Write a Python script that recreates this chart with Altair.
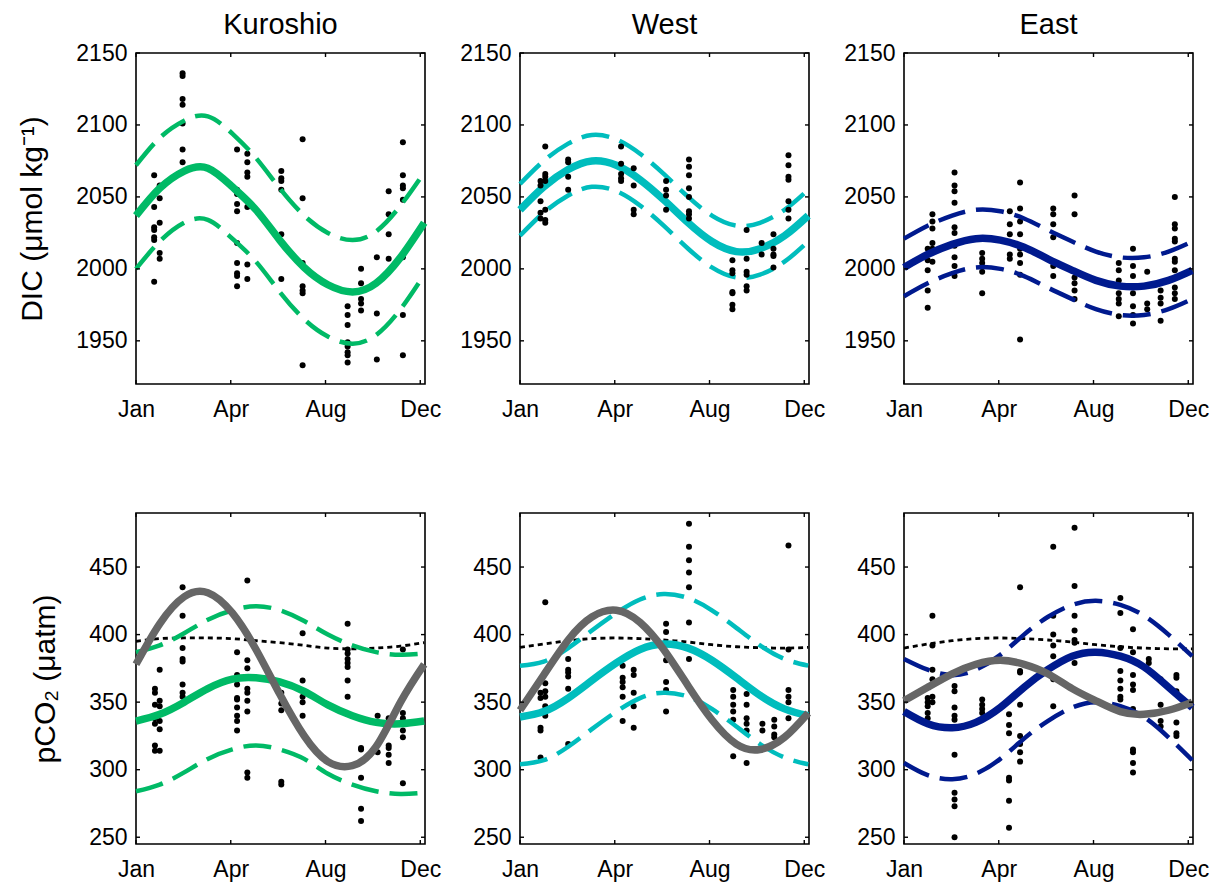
import altair as alt
import pandas as pd

FONT = "Liberation Sans"

DAYS = [0, 30, 61, 91, 122, 152, 182, 213, 243, 274, 304, 335, 365]
MONTH_TICKS = [0, 120, 240, 360]
MONTH_LABELS = ["Jan", "Apr", "Aug", "Dec"]
DIC_TICKS = [1950, 2000, 2050, 2100, 2150]
PCO2_TICKS = [250, 300, 350, 400, 450]
DIC_DOMAIN = [1920, 2150]
PCO2_DOMAIN = [245, 490]

REGIONS = ["Kuroshio", "West", "East"]
COLORS = ["#00BA66", "#00BDBD", "#001A8E"]
GRAY = "#666666"

# ---- DIC fits (solid) and bounds (dashed)
KUR_DIC_FIT = [2037, 2056, 2068, 2070, 2057, 2041, 2020, 2001, 1989, 1984, 1990, 2008, 2032]
KUR_DIC_UP = [2072, 2091, 2103, 2106, 2094, 2077, 2056, 2037, 2025, 2020, 2026, 2044, 2067]
KUR_DIC_LO = [2000, 2019, 2032, 2034, 2021, 2005, 1984, 1965, 1953, 1948, 1954, 1972, 1996]

WEST_DIC_FIT = [2041, 2057, 2069, 2075, 2072, 2062, 2048, 2032, 2019, 2012, 2014, 2023, 2037]
WEST_DIC_UP = [2059, 2075, 2087, 2093, 2090, 2080, 2066, 2050, 2037, 2030, 2032, 2041, 2055]
WEST_DIC_LO = [2023, 2039, 2051, 2057, 2054, 2044, 2030, 2014, 2001, 1994, 1996, 2005, 2019]

EAST_DIC_FIT = [2001, 2010, 2017, 2021, 2020, 2015, 2007, 1999, 1992, 1988, 1988, 1992, 1999]
EAST_DIC_UP = [2021, 2030, 2037, 2041, 2040, 2035, 2027, 2019, 2012, 2008, 2008, 2012, 2019]
EAST_DIC_LO = [1981, 1990, 1997, 2001, 2000, 1995, 1987, 1979, 1972, 1968, 1968, 1972, 1979]

# ---- pCO2 fits, bounds, grey curve and dotted atmospheric line
KUR_PCO2_FIT = [336, 341, 350, 360, 367, 368, 365, 358, 348, 340, 335, 334, 336]
KUR_PCO2_UP = [387, 392, 401, 411, 418, 421, 418, 410, 400, 392, 387, 385, 386]
KUR_PCO2_LO = [284, 289, 298, 308, 315, 318, 315, 308, 297, 289, 284, 282, 283]
KUR_PCO2_GRAY = [378, 408, 428, 431, 416, 389, 356, 325, 306, 303, 317, 350, 378]
KUR_PCO2_ATM = [395, 397, 397.5, 397.5, 397, 395.5, 394, 392, 390, 389.5, 390, 391.5, 394]

WEST_PCO2_FIT = [339, 343, 353, 366, 379, 389, 393, 390, 381, 368, 355, 345, 340]
WEST_PCO2_UP = [377, 380, 390, 403, 416, 426, 430, 427, 418, 405, 392, 382, 377]
WEST_PCO2_LO = [304, 307, 317, 330, 343, 353, 357, 354, 345, 332, 319, 309, 304]
WEST_PCO2_GRAY = [344, 370, 396, 413, 418, 409, 389, 362, 337, 319, 315, 324, 342]
WEST_PCO2_ATM = [390.5, 393, 395.5, 397, 397.5, 397, 396, 394.5, 392.5, 391, 390.3, 390, 390.5]

EAST_PCO2_FIT = [343, 334, 331, 335, 346, 361, 374, 384, 387, 384, 376, 361, 346]
EAST_PCO2_UP = [382, 374, 370, 374, 385, 400, 413, 422, 425, 422, 414, 400, 384]
EAST_PCO2_LO = [305, 296, 293, 297, 308, 323, 336, 346, 350, 347, 339, 324, 307]
EAST_PCO2_GRAY = [351, 361, 371, 378, 381, 378, 371, 360, 351, 343, 341, 344, 350]
EAST_PCO2_ATM = [390, 393, 395.5, 397, 397.5, 397, 396, 394.5, 392.5, 391, 390, 389.5, 389.5]

# ---- observations: (day of year, [values])
KUR_DIC_PTS = [
    (23, [2065, 2052, 2043, 2029, 2027, 2022, 2020, 1991]),
    (30, [2058, 2049, 2032, 2011, 2007]),
    (59, [2136, 2134, 2118, 2114, 2101, 2083, 2074]),
    (128, [2083, 2055, 2052, 2045, 2040, 2018, 2004, 1997, 1995, 1988]),
    (141, [2080, 2074, 2067, 2064, 2043, 2003, 1993]),
    (184, [2068, 2063, 2061, 2055, 2024, 1993]),
    (211, [2090, 2049, 2004, 1988, 1985, 1983, 1933]),
    (268, [1974, 1968, 1961, 1949, 1946, 1942, 1940, 1935]),
    (285, [2000, 1990, 1979, 1976, 1971]),
    (305, [2008, 1969, 1937]),
    (320, [2054, 2038, 2024, 2007]),
    (338, [2088, 2065, 2058, 2056, 2048, 2008, 1968, 1940]),
]
WEST_DIC_PTS = [
    (26, [2061, 2058, 2047, 2039, 2035]),
    (32, [2085, 2066, 2064, 2061, 2041, 2034, 2032]),
    (61, [2076, 2074, 2064, 2055]),
    (128, [2085, 2073, 2066, 2063, 2061]),
    (144, [2070, 2058, 2041, 2038]),
    (185, [2061, 2055, 2051, 2041]),
    (214, [2076, 2071, 2065, 2056, 2050, 2040, 2038, 2035]),
    (269, [2006, 1999, 1997, 1984, 1983, 1975, 1972]),
    (287, [2027, 2007, 1998, 1996, 1988, 1985]),
    (306, [2018, 2010]),
    (321, [2024, 2014, 2010, 2009, 2001]),
    (340, [2079, 2072, 2064, 2062, 2047, 2041, 2035]),
]
EAST_DIC_PTS = [
    (30, [2014, 2006, 1999, 1985, 1973]),
    (36, [2038, 2033, 2028, 2018, 2014, 2005]),
    (64, [2067, 2058, 2054, 2046, 2029, 2025, 2016, 2008, 2002, 1995]),
    (99, [2011, 2007, 2004, 1998, 1983]),
    (134, [2040, 2031, 2024, 2010, 2007]),
    (147, [2060, 2042, 2033, 2024, 2014, 2010, 2004, 1996, 1951]),
    (189, [2042, 2038, 2031, 2022, 2002, 1995]),
    (216, [2051, 2038, 1994, 1990, 1985, 1979]),
    (272, [2004, 1999, 1992, 1983, 1979, 1976, 1967]),
    (290, [2014, 2002, 1995, 1983, 1974, 1968, 1962]),
    (308, [1998, 1976, 1972]),
    (325, [1985, 1980, 1976, 1964]),
    (343, [2050, 2031, 2028, 2021, 2019, 2007, 2005, 1999, 1987, 1983, 1979]),
]
KUR_PCO2_PTS = [
    (24, [360, 357, 348, 338, 334, 318, 314]),
    (30, [374, 351, 347, 336, 330, 314]),
    (59, [435, 414, 390, 382, 380, 363, 357, 354]),
    (128, [387, 370, 363, 353, 352, 346, 340, 336, 329]),
    (141, [440, 381, 375, 360, 357, 351, 343, 298, 294]),
    (184, [357, 349, 344, 291, 289]),
    (211, [401, 366, 354, 350, 340]),
    (268, [408, 389, 386, 382, 379, 376, 366, 354]),
    (285, [316, 315, 294, 271, 262]),
    (306, [340, 313]),
    (320, [338, 318, 316, 311, 305]),
    (338, [389, 342, 338, 329, 324, 290]),
]
WEST_PCO2_PTS = [
    (26, [357, 353, 331, 329, 309]),
    (32, [424, 364, 358, 354, 347, 340]),
    (61, [382, 374, 372, 369, 360, 319]),
    (130, [377, 368, 365, 361, 354, 336]),
    (144, [374, 370, 357, 347, 331]),
    (185, [408, 402, 381, 365, 359, 343]),
    (214, [482, 465, 455, 446, 435, 409, 382]),
    (270, [359, 354, 348, 343, 337, 310]),
    (287, [356, 348, 338, 334, 329, 305]),
    (307, [334, 329]),
    (322, [337, 332, 326, 324]),
    (340, [466, 389, 359, 354, 350, 338]),
]
EAST_PCO2_PTS = [
    (30, [353, 350, 347, 342, 338]),
    (36, [414, 392, 374, 367, 354, 350]),
    (64, [362, 358, 346, 340, 337, 311, 283, 278, 273, 250]),
    (99, [352, 348, 345, 342]),
    (133, [341, 333, 327, 294, 292, 277, 257]),
    (147, [435, 373, 372, 348, 325, 319, 313, 306]),
    (189, [465, 414, 400, 392, 384, 367, 347]),
    (216, [479, 436, 414, 403, 396, 394, 379]),
    (274, [427, 416, 390, 373, 366, 360, 354, 352]),
    (290, [404, 387, 370, 363, 359, 345, 315, 313, 305, 298]),
    (310, [382, 379]),
    (325, [367, 348, 336, 332]),
    (345, [370, 368, 358, 335, 327, 325]),
]

W, H = 289, 331
TICK_LEN = 4

label_expr = " : ".join(
    f"datum.value == {v} ? '{l}'" for v, l in zip(MONTH_TICKS[:-1], MONTH_LABELS[:-1])
) + f" : '{MONTH_LABELS[-1]}'"


def curve_df(values):
    return pd.DataFrame({"day": DAYS, "value": values})


def pts_df(groups):
    rows = [(d, v) for d, vals in groups for v in vals]
    return pd.DataFrame(rows, columns=["day", "value"])


def panel(fit, up, lo, pts, color, ydomain, yticks, title=None, ytitle=None,
          gray=None, atm=None, dots_on_top=False):
    x = alt.X("day:Q",
              scale=alt.Scale(domain=[0, 366], nice=False, zero=False),
              axis=alt.Axis(values=MONTH_TICKS, labelExpr=label_expr, title=None,
                            grid=False, ticks=False, tickSize=0, domain=False,
                            labelPadding=14, labelFlush=False, labelOverlap=False))
    yaxis_kwargs = dict(values=yticks, grid=False, ticks=False, tickSize=0, domain=False,
                        labelPadding=9, labelOverlap=False, format="d")
    if ytitle:
        yaxis_kwargs.update(title=ytitle, titlePadding=28)
    else:
        yaxis_kwargs.update(title=None)
    y = alt.Y("value:Q", scale=alt.Scale(domain=ydomain, nice=False, zero=False),
              axis=alt.Axis(**yaxis_kwargs))

    layers = []
    dots = alt.Chart(pts_df(pts)).mark_circle(size=36, color="black", opacity=1).encode(x=x, y=y)
    if not dots_on_top:
        layers.append(dots)
    if atm is not None:
        layers.append(alt.Chart(curve_df(atm)).mark_line(
            color="black", strokeWidth=2.8, strokeDash=[5, 4], interpolate="natural").encode(x=x, y=y))
    for vals in (up, lo):
        layers.append(alt.Chart(curve_df(vals)).mark_line(
            color=color, strokeWidth=4.5, strokeDash=[28, 11], interpolate="natural").encode(x=x, y=y))
    layers.append(alt.Chart(curve_df(fit)).mark_line(
        color=color, strokeWidth=7.5, interpolate="natural").encode(x=x, y=y))
    if gray is not None:
        layers.append(alt.Chart(curve_df(gray)).mark_line(
            color=GRAY, strokeWidth=7.5, interpolate="natural").encode(x=x, y=y))
    if dots_on_top:
        layers.append(dots)

    # inward tick marks on all four sides
    ydf = pd.DataFrame({"value": yticks})
    xdf = pd.DataFrame({"day": MONTH_TICKS})
    rule = dict(color="black", strokeWidth=1.4)
    layers.append(alt.Chart(ydf).mark_rule(**rule).encode(
        y=y, x=alt.value(0), x2=alt.value(TICK_LEN)))
    layers.append(alt.Chart(ydf).mark_rule(**rule).encode(
        y=y, x=alt.value(W - TICK_LEN), x2=alt.value(W)))
    layers.append(alt.Chart(xdf).mark_rule(**rule).encode(
        x=x, y=alt.value(H), y2=alt.value(H - TICK_LEN)))
    layers.append(alt.Chart(xdf).mark_rule(**rule).encode(
        x=x, y=alt.value(0), y2=alt.value(TICK_LEN)))

    ch = alt.layer(*layers).properties(width=W, height=H)
    if title:
        ch = ch.properties(title=alt.TitleParams(
            text=title, fontSize=29, font=FONT, fontWeight="normal", color="black",
            anchor="middle", baseline="alphabetic", offset=0, dy=21))
    return ch


DIC_TITLE = "DIC (\u03bcmol kg\u207b\u00b9)"
PCO2_TITLE = "pCO\u2082 (\u03bcatm)"

panels = [
    panel(KUR_DIC_FIT, KUR_DIC_UP, KUR_DIC_LO, KUR_DIC_PTS, COLORS[0], DIC_DOMAIN, DIC_TICKS,
          title=REGIONS[0], ytitle=DIC_TITLE),
    panel(WEST_DIC_FIT, WEST_DIC_UP, WEST_DIC_LO, WEST_DIC_PTS, COLORS[1], DIC_DOMAIN, DIC_TICKS,
          title=REGIONS[1], dots_on_top=True),
    panel(EAST_DIC_FIT, EAST_DIC_UP, EAST_DIC_LO, EAST_DIC_PTS, COLORS[2], DIC_DOMAIN, DIC_TICKS,
          title=REGIONS[2]),
    panel(KUR_PCO2_FIT, KUR_PCO2_UP, KUR_PCO2_LO, KUR_PCO2_PTS, COLORS[0], PCO2_DOMAIN, PCO2_TICKS,
          ytitle=PCO2_TITLE, gray=KUR_PCO2_GRAY, atm=KUR_PCO2_ATM),
    panel(WEST_PCO2_FIT, WEST_PCO2_UP, WEST_PCO2_LO, WEST_PCO2_PTS, COLORS[1], PCO2_DOMAIN, PCO2_TICKS,
          gray=WEST_PCO2_GRAY, atm=WEST_PCO2_ATM),
    panel(EAST_PCO2_FIT, EAST_PCO2_UP, EAST_PCO2_LO, EAST_PCO2_PTS, COLORS[2], PCO2_DOMAIN, PCO2_TICKS,
          gray=EAST_PCO2_GRAY, atm=EAST_PCO2_ATM),
]

chart = alt.concat(*panels, columns=3, spacing={"row": 129, "column": 95}, bounds="flush").properties(
    padding={"left": 9, "top": 2, "right": 2, "bottom": 2}
).configure(
    font=FONT, background="white"
).configure_view(
    stroke="black", strokeWidth=1.6
).configure_axis(
    labelFont=FONT, labelFontSize=23, labelColor="black",
    titleFont=FONT, titleFontSize=30, titleFontWeight="normal", titleColor="black",
)

chart.save("out.html", embed_options={"renderer": "svg", "actions": False})
